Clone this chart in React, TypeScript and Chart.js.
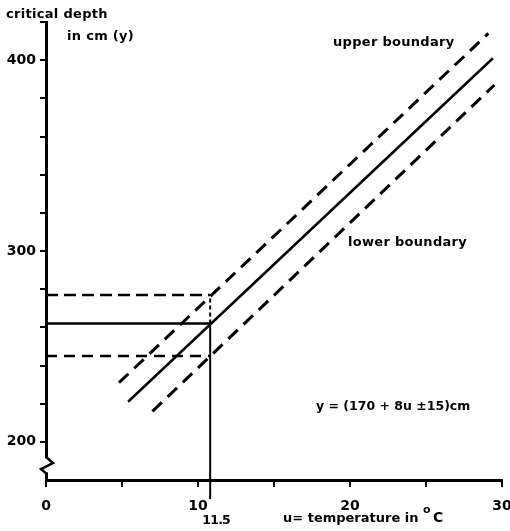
import React, { useEffect, useRef } from "react";
import { Chart, registerables } from "chart.js";

Chart.register(...registerables);

// temperature (u, °C) and critical depth (y, cm)
const meanU = [5.4, 29.4];
const meanDepth = [221, 401];
const upperU = [4.8, 29.1];
const upperDepth = [231, 414];
const lowerU = [7.0, 29.5];
const lowerDepth = [216, 387];
const readU = [0, 10.8];
const readDepths = [277, 262, 245]; // upper, mean, lower at the read temperature
const readFloor = 170;
const xRange = [0, 30];
const yRange = [180, 420];
const xTickLabels = [0, 10, 20, 30];
const yTickLabels = [200, 300, 400];
const breakRange = [184, 191.5];

const FONT = '"DejaVu Sans", "Liberation Sans", sans-serif';

const pts = (us: number[], ys: number[]) => us.map((u, i) => ({ x: u, y: ys[i] }));

const textPlugin = {
  id: "texts",
  afterDraw(chart: any) {
    const ctx = chart.ctx as CanvasRenderingContext2D;
    const xs = chart.scales.x;
    const ys = chart.scales.y;
    ctx.save();
    // axis break zigzag
    const ax = xs.getPixelForValue(0);
    const yTop = ys.getPixelForValue(breakRange[1]);
    const yBot = ys.getPixelForValue(breakRange[0]);
    ctx.fillStyle = "#fff";
    ctx.fillRect(ax - 3, yTop, 6, yBot - yTop);
    ctx.strokeStyle = "#000";
    ctx.lineWidth = 2.5;
    ctx.lineJoin = "miter";
    ctx.beginPath();
    ctx.moveTo(ax, yTop - 1);
    ctx.lineTo(ax + 7, yTop + 5);
    ctx.lineTo(ax - 5, yTop + 11);
    ctx.lineTo(ax, yBot + 1);
    ctx.stroke();

    ctx.fillStyle = "#000";
    ctx.textBaseline = "alphabetic";
    ctx.textAlign = "left";
    const put = (t: string, x: number, y: number, size: number, ls = "0.3px") => {
      (ctx as any).letterSpacing = ls;
      ctx.font = `bold ${size}px ${FONT}`;
      ctx.fillText(t, x, y);
    };
    put("critical depth", 6, 18, 13);
    put("in cm (y)", 67, 40, 13);
    put("upper boundary", 333, 46, 13);
    put("lower boundary", 348, 246, 13);
    put("y = (170 + 8u ±15)cm", 316, 410, 12.5, "0px");
    ctx.textAlign = "center";
    put("11.5", xs.getPixelForValue(readU[1]) + 6, 524, 12.5, "-0.8px");
    ctx.textAlign = "left";
    put("u= temperature in", 283, 522, 13, "0px");
    put("o", 423, 513, 11, "0px");
    put("C", 433, 522, 14, "0px");
    ctx.restore();
  },
};

export default function App() {
  const ref = useRef<HTMLCanvasElement | null>(null);
  useEffect(() => {
    document.body.style.margin = "0";
    if (!ref.current) return;
    const base = {
      borderColor: "#000",
      pointRadius: 0,
      showLine: true,
      fill: false,
      tension: 0,
      borderCapStyle: "butt" as const,
    };
    const chart = new Chart(ref.current, {
      type: "scatter",
      data: {
        datasets: [
          { ...base, data: pts(meanU, meanDepth), borderWidth: 2.5 },
          { ...base, data: pts(upperU, upperDepth), borderWidth: 3, borderDash: [13, 8] },
          { ...base, data: pts(lowerU, lowerDepth), borderWidth: 3, borderDash: [13, 8] },
          { ...base, data: pts(readU, [readDepths[0], readDepths[0]]), borderWidth: 2.5, borderDash: [12, 6] },
          { ...base, data: pts(readU, [readDepths[1], readDepths[1]]), borderWidth: 2.5 },
          { ...base, data: pts(readU, [readDepths[2], readDepths[2]]), borderWidth: 2.5, borderDash: [11, 7] },
          { ...base, data: pts([readU[1], readU[1]], [readFloor, readDepths[1]]), borderWidth: 2, clip: false },
          { ...base, data: pts([readU[1], readU[1]], [readDepths[1], readDepths[0]]), borderWidth: 2, borderDash: [4, 3] },
        ] as any,
      },
      options: {
        animation: false,
        responsive: false,
        events: [],
        layout: { padding: { top: 22, right: 8, left: 0, bottom: 0 } },
        plugins: { legend: { display: false }, tooltip: { enabled: false } },
        scales: {
          x: {
            type: "linear",
            position: "bottom",
            min: xRange[0],
            max: xRange[1],
            afterFit: (s: any) => {
              s.height = 51;
              s.paddingLeft = 0;
              s.paddingRight = 0;
            },
            ticks: {
              stepSize: 5,
              autoSkip: false,
              maxRotation: 0,
              padding: 11,
              color: "#000",
              font: { family: FONT, size: 14, weight: "bold" },
              callback: (v: any) => (xTickLabels.includes(Number(v)) ? String(v) : ""),
            },
            grid: { drawOnChartArea: false, drawTicks: true, tickLength: 7, lineWidth: 2, color: "#000" },
            border: { display: true, width: 3, color: "#000" },
          },
          y: {
            type: "linear",
            min: yRange[0],
            max: yRange[1],
            afterFit: (s: any) => {
              s.width = 46;
              s.paddingTop = 0;
              s.paddingBottom = 0;
            },
            ticks: {
              stepSize: 20,
              autoSkip: false,
              padding: 4,
              color: "#000",
              font: { family: FONT, size: 14, weight: "bold" },
              callback: (v: any) => (yTickLabels.includes(Number(v)) ? String(v) : ""),
            },
            grid: {
              drawOnChartArea: false,
              drawTicks: true,
              tickLength: 6,
              lineWidth: 2,
              color: (c: any) => (c.tick && c.tick.value === yRange[0] ? "rgba(0,0,0,0)" : "#000"),
            },
            border: { display: true, width: 3, color: "#000" },
          },
        },
      } as any,
      plugins: [textPlugin],
    });
    return () => chart.destroy();
  }, []);
  return (
    <div style={{ position: "fixed", left: 0, top: 0, width: 510, height: 531, background: "#fff" }}>
      <canvas ref={ref} width={510} height={531} style={{ display: "block", width: 510, height: 531 }} />
    </div>
  );
}
